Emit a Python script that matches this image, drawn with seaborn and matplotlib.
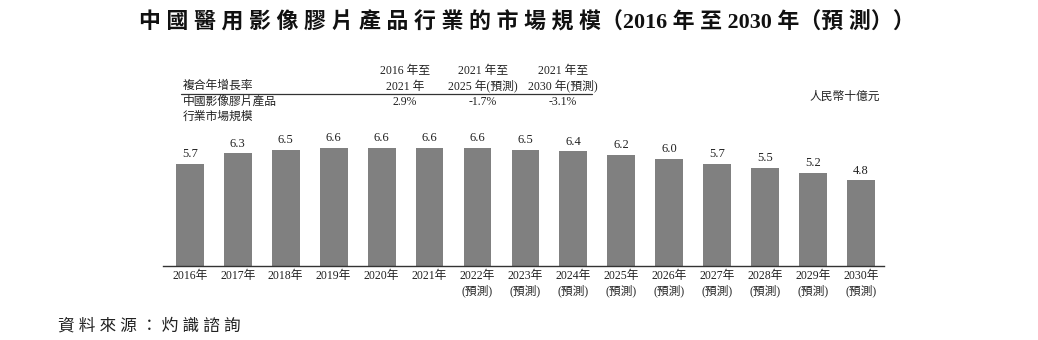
import matplotlib
matplotlib.use("Agg")
import matplotlib.pyplot as plt
import seaborn as sns
import pandas as pd

years = ["2016年", "2017年", "2018年", "2019年", "2020年", "2021年", "2022年", "2023年",
         "2024年", "2025年", "2026年", "2027年", "2028年", "2029年", "2030年"]
forecast = [False] * 6 + [True] * 9
values = [5.7, 6.3, 6.5, 6.6, 6.6, 6.6, 6.6, 6.5, 6.4, 6.2, 6.0, 5.7, 5.5, 5.2, 4.8]
cagr_periods = ["2016 年至\n2021 年", "2021 年至\n2025 年(預測)", "2021 年至\n2030 年(預測)"]
cagr_values = ["2.9%", "-1.7%", "-3.1%"]

sns.set_theme(style="white")
FAM = ["Liberation Serif", "Noto Sans CJK TC", "DejaVu Sans"]
plt.rcParams["font.family"] = FAM

labels = [y + ("\n(預測)" if f else "") for y, f in zip(years, forecast)]
df = pd.DataFrame({"year": labels, "value": values})

fig = plt.figure(figsize=(10.38, 3.40), dpi=100)
ax = fig.add_axes([163 / 1038, 1 - 266 / 340, (884 - 163) / 1038, (266 - 140) / 340])
sns.barplot(data=df, x="year", y="value", color="#808080", saturation=1, width=0.58, ax=ax)
for p in ax.patches:
    p.set_edgecolor("none")
ax.set_xlim(-0.56, 14.48)
ax.set_ylim(0, 7.04)
for i, v in enumerate(values):
    ax.text(i, v + 0.2, f"{v:.1f}", ha="center", va="bottom", fontsize=9, color="#222222")
ax.set_xlabel("")
ax.set_ylabel("")
ax.set_yticks([])
for s in ["top", "right", "left"]:
    ax.spines[s].set_visible(False)
ax.spines["bottom"].set_color("#333333")
ax.spines["bottom"].set_linewidth(1.0)
ax.tick_params(axis="x", length=0, pad=3, labelsize=8.5, colors="#222222")
for t in ax.get_xticklabels():
    t.set_linespacing(1.3)
    t.set_verticalalignment("top")

W, H = 1038, 340
def ft(x, y, s, **kw):
    fig.text(x / W, 1 - y / H, s, **kw)

ft(527, 22, "中 國 醫 用 影 像 膠 片 產 品 行 業 的 市 場 規 模（2016 年 至 2030 年（預 測））",
   ha="center", va="center", fontsize=15.8, fontweight="bold", color="#111111")

ft(183, 86, "複合年增長率", ha="left", va="center", fontsize=8.5, color="#222222")
col_x = [405, 483, 563]
for x, s, v in zip(col_x, cagr_periods, cagr_values):
    ft(x, 79, s, ha="center", va="center", fontsize=8.5, color="#222222", linespacing=1.35, multialignment="center")
    ft(x, 102, v, ha="center", va="center", fontsize=8.5, color="#222222")
ft(183, 109, "中國影像膠片產品\n行業市場規模", ha="left", va="center", fontsize=8.5, color="#222222", linespacing=1.35)
fig.add_artist(plt.Line2D([181 / W, 592 / W], [1 - 94 / H, 1 - 94 / H], color="#333333", lw=0.9))

ft(880, 97, "人民幣十億元", ha="right", va="center", fontsize=8.5, style="italic", color="#222222")
ft(58, 326, "資 料 來 源 ： 灼 識 諮 詢", ha="left", va="center", fontsize=12, style="italic", color="#222222")

fig.savefig("out.png", dpi=100)
